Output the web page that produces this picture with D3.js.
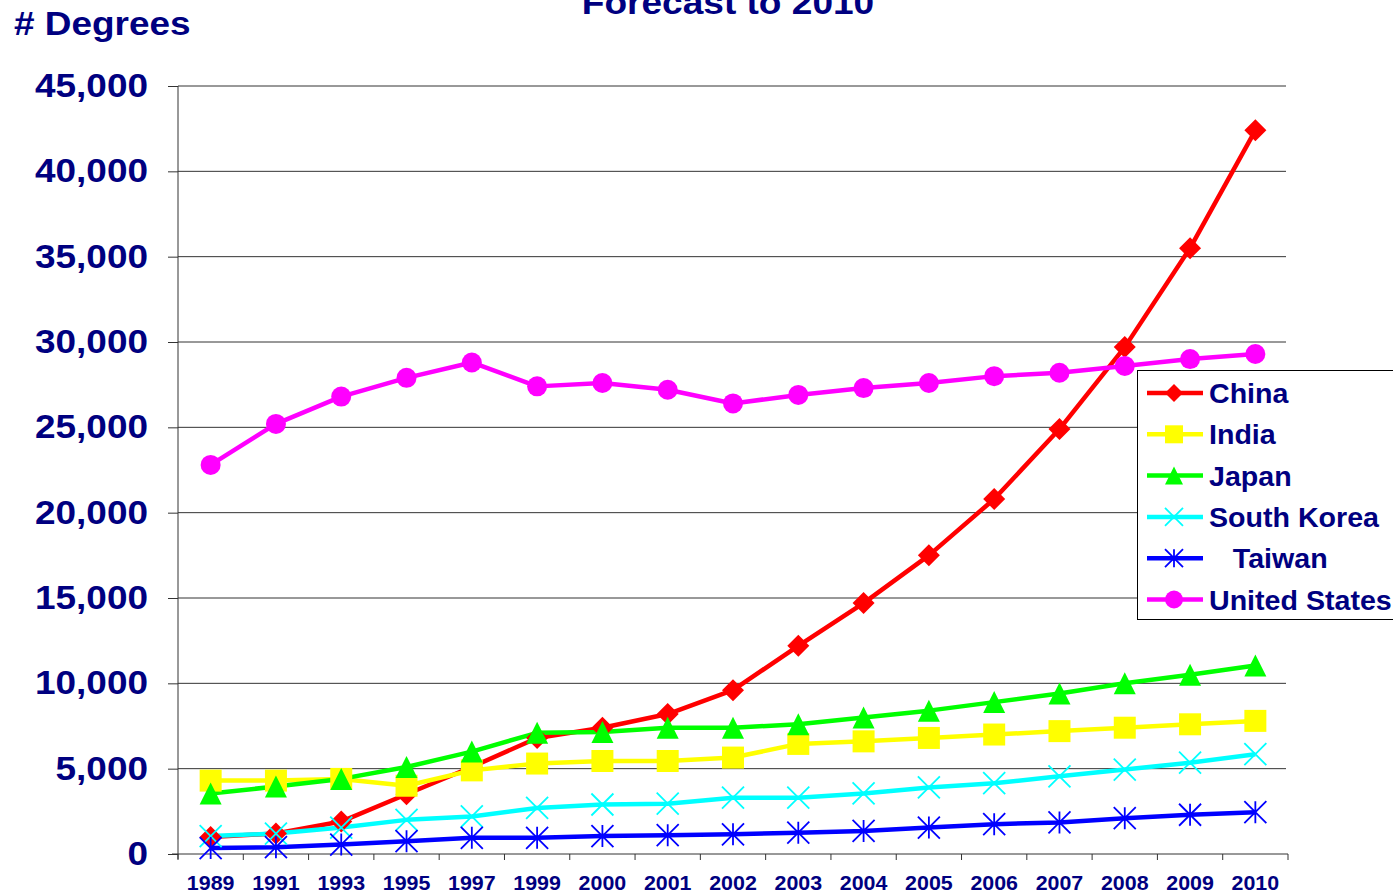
<!DOCTYPE html>
<html>
<head>
<meta charset="utf-8">
<script src="https://cdn.jsdelivr.net/npm/d3@7"></script>
<style>
  body { margin: 0; background: #fff; }
  svg { display: block; font-family: "Liberation Sans", Arial, sans-serif; font-weight: bold; }
</style>
</head>
<body>
<svg width="1393" height="896"></svg>
<script>
// Data
let years = ["1989", "1991", "1993", "1995", "1997", "1999", "2000", "2001", "2002",
             "2003", "2004", "2005", "2006", "2007", "2008", "2009", "2010"];
let yTicks = [0, 5000, 10000, 15000, 20000, 25000, 30000, 35000, 40000, 45000];

let china  = [1000, 1200, 1900, 3500, 5100, 6800, 7400, 8200, 9600, 12200, 14700, 17500, 20800, 24900, 29700, 35500, 42400];
let india  = [4300, 4300, 4400, 4000, 4900, 5300, 5450, 5450, 5650, 6450, 6600, 6800, 7000, 7200, 7400, 7600, 7800];
let japan  = [3550, 3950, 4400, 5100, 6000, 7100, 7150, 7400, 7400, 7600, 8000, 8400, 8900, 9400, 10000, 10500, 11050];
let korea  = [1050, 1200, 1550, 2000, 2200, 2700, 2900, 2950, 3300, 3300, 3550, 3900, 4150, 4550, 4950, 5350, 5850];
let taiwan = [350, 400, 550, 750, 950, 950, 1050, 1100, 1150, 1250, 1350, 1550, 1750, 1850, 2100, 2300, 2450];
let usa    = [22800, 25200, 26800, 27900, 28800, 27400, 27600, 27200, 26400, 26900, 27300, 27600, 28000, 28200, 28600, 29000, 29300];

let seriesNames  = ["China", "India", "Japan", "South Korea", "   Taiwan", "United States"];
let seriesValues = [china, india, japan, korea, taiwan, usa];
let seriesColors = ["#ff0000", "#ffff00", "#00ff00", "#00ffff", "#0000ff", "#ff00ff"];
let seriesMarks  = ["diamond", "square", "triangle", "x", "star", "circle"];

let navy = "#000080";
let svg = d3.select("svg");

// scales
let xScale = d3.scaleBand().domain(years).range([178, 1288]).padding(0);
let yScale = d3.scaleLinear().domain([0, 45000]).range([854, 86]);
let cx = (d) => xScale(d) + xScale.bandwidth() / 2;

// marker paths, s = half size
let markerPath = (type, s) => {
  if (type === "diamond") return `M0,${-s}L${s},0L0,${s}L${-s},0Z`;
  if (type === "square") return `M${-s},${-s}H${s}V${s}H${-s}Z`;
  if (type === "triangle") return `M0,${-s}L${s},${s}L${-s},${s}Z`;
  if (type === "x") return `M${-s},${-s}L${s},${s}M${s},${-s}L${-s},${s}`;
  if (type === "star") return `M${-s},${-s}L${s},${s}M${s},${-s}L${-s},${s}M0,${-s}V${s}`;
  return "";
}

let drawMarker = (g, type, color, s) => {
  if (type === "circle") {
    g.append("ellipse").attr("rx", s).attr("ry", s).attr("fill", color);
  } else if (type === "x" || type === "star") {
    g.append("path").attr("d", markerPath(type, s)).attr("fill", "none")
     .attr("stroke", color).attr("stroke-width", 1.8);
  } else {
    g.append("path").attr("d", markerPath(type, s)).attr("fill", color);
  }
}

// the original text is a little wider than the font, stretch it horizontally
let stretchText = (parent, x, y, k, size, txt, anchor) => {
  return parent.append("text")
    .attr("transform", `translate(${x},${y}) scale(${k},1)`)
    .attr("text-anchor", anchor || "start")
    .attr("font-size", size)
    .attr("fill", navy)
    .style("white-space", "pre")
    .text(txt);
}

// title and axis title
stretchText(svg, 728, 14, 1.09, 34, "Forecast to 2010", "middle");
stretchText(svg, 14, 35, 1.12, 33, "# Degrees");

// gridlines
svg.append("g")
   .selectAll("line")
   .data(yTicks.filter(d => d > 0))
   .enter()
   .append("line")
   .attr("x1", 178).attr("x2", 1286)
   .attr("y1", d => yScale(d)).attr("y2", d => yScale(d))
   .attr("stroke", "#333").attr("stroke-width", 1);

// y axis
let yAxis = d3.axisLeft(yScale).tickValues(yTicks).tickSize(10).tickPadding(20).tickFormat(d3.format(","));
let yAxisG = svg.append("g").attr("transform", "translate(178,0)").call(yAxis);
yAxisG.select(".domain").remove();
yAxisG.selectAll(".tick line").attr("stroke", "#333");
yAxisG.selectAll("text")
      .attr("x", -30 / 1.12)
      .attr("transform", "scale(1.12,1)")
      .attr("font-size", 33).attr("fill", navy)
      .attr("font-family", "Liberation Sans, Arial, sans-serif").attr("font-weight", "bold");
svg.append("line").attr("x1", 178).attr("x2", 178).attr("y1", 86).attr("y2", 859)
   .attr("stroke", "#333");

// x axis
let xAxis = d3.axisBottom(xScale).tickSize(0).tickPadding(22);
let xAxisG = svg.append("g").attr("transform", "translate(0,854)").call(xAxis);
xAxisG.select(".domain").remove();
xAxisG.selectAll("text")
      .attr("transform", "scale(1.07,1)")
      .attr("font-size", 20).attr("fill", navy)
      .attr("font-family", "Liberation Sans, Arial, sans-serif").attr("font-weight", "bold");
svg.append("line").attr("x1", 172).attr("x2", 1288).attr("y1", 854).attr("y2", 854)
   .attr("stroke", "#333");
svg.append("g")
   .selectAll("line")
   .data(years.map(d => xScale(d)).concat([xScale.range()[1]]))
   .enter()
   .append("line")
   .attr("x1", d => d).attr("x2", d => d)
   .attr("y1", 854).attr("y2", 860)
   .attr("stroke", "#333");

// lines and markers
let line = d3.line().x((d, i) => cx(years[i])).y(d => yScale(d));

seriesValues.forEach((vals, k) => {
  svg.append("path")
     .attr("d", line(vals))
     .attr("fill", "none")
     .attr("stroke", seriesColors[k])
     .attr("stroke-width", 4.5)
     .attr("stroke-linejoin", "round");
});

seriesValues.forEach((vals, k) => {
  vals.forEach((v, i) => {
    let g = svg.append("g").attr("transform", `translate(${cx(years[i])},${yScale(v)})`);
    drawMarker(g, seriesMarks[k], seriesColors[k], seriesMarks[k] === "circle" ? 10 : 11);
  });
});

// legend
let legend = svg.append("g");
legend.append("rect")
      .attr("x", 1137.5).attr("y", 370.5)
      .attr("width", 270).attr("height", 249)
      .attr("fill", "#fff").attr("stroke", "#000").attr("stroke-width", 1);

seriesNames.forEach((name, k) => {
  let ly = 393 + k * 41.3;
  legend.append("line")
        .attr("x1", 1147).attr("x2", 1203).attr("y1", ly).attr("y2", ly)
        .attr("stroke", seriesColors[k]).attr("stroke-width", 4.5);
  let g = legend.append("g").attr("transform", `translate(1174,${ly})`);
  drawMarker(g, seriesMarks[k], seriesColors[k], 9);
  stretchText(legend, 1209, ly + 10, 1.04, 27.5, name);
});
</script>
</body>
</html>
